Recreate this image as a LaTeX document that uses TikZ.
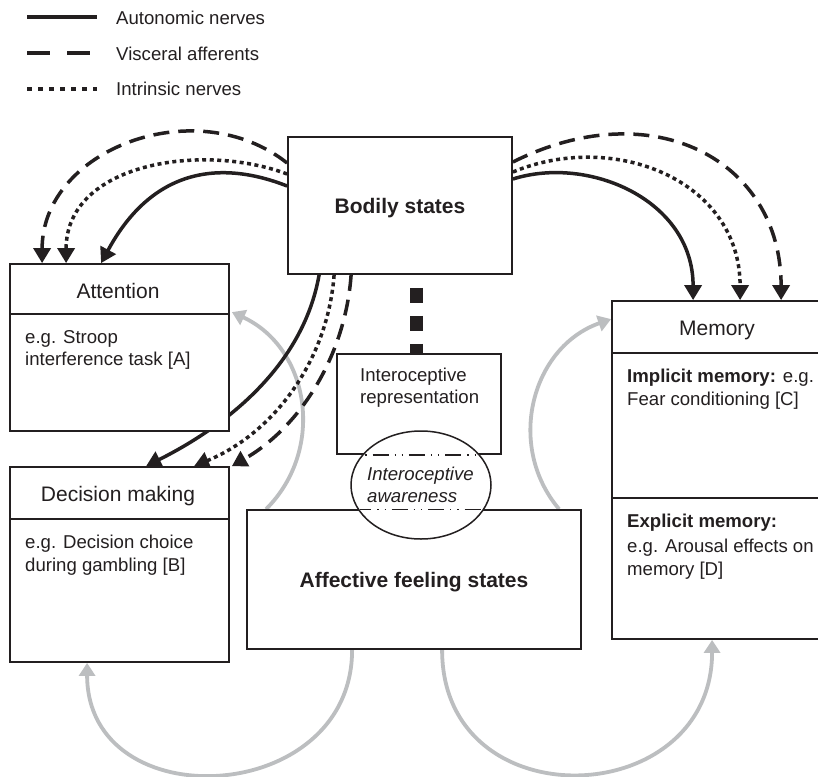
\documentclass[tikz,border=0pt]{standalone}
\usepackage{fontspec}
\setmainfont{Liberation Sans}
\usetikzlibrary{arrows.meta,shapes.geometric,calc}
\pgfdeclarelayer{bg}
\pgfsetlayers{bg,main}
\definecolor{ink}{HTML}{231F20}
\definecolor{arcgray}{HTML}{BCBEC0}
\newcommand{\myBody}{\fontsize{18.6pt}{22pt}\selectfont}
\newcommand{\myTitle}{\fontsize{21pt}{25pt}\selectfont}
\begin{document}
\begin{tikzpicture}[x=1pt,y=-1pt,
  box/.style={draw=ink, line width=1.8pt, fill=white, rectangle, inner sep=0pt},
  titletext/.style={anchor=base, inner sep=0pt, text=ink, font=\myTitle},
  boldtitle/.style={titletext, font=\myTitle\bfseries},
  bodytext/.style={anchor=base west, inner sep=0pt, text=ink, font=\myBody},
  nerveA/.style={draw=ink, line width=3.5pt, -{Triangle[width=17pt,length=15pt]}},
  nerveV/.style={nerveA, dash pattern=on 16pt off 9pt},
  nerveI/.style={nerveA, dash pattern=on 4pt off 3.5pt},
  feedback/.style={draw=arcgray, line width=3.8pt, -{Triangle[width=16pt,length=13pt]}},
  awareline/.style={draw=ink, line width=1.2pt, dash pattern=on 16pt off 6pt on 1.2pt off 6pt on 1.2pt off 6pt}
]
\useasboundingbox (0,0) rectangle (818,776);

% ---------- boxes ----------
\node[box, minimum width=224pt, minimum height=137pt] (bodily) at (400,205.5) {};
\node[box, minimum width=219pt, minimum height=167pt] (attention) at (119.5,347.5) {};
\node[box, minimum width=219pt, minimum height=195pt] (decision) at (119.5,564.5) {};
\node[box, minimum width=164pt, minimum height=100pt] (interorep) at (419,404) {};
\node[box, minimum width=334pt, minimum height=139pt] (affective) at (414,579.5) {};
\node[box, minimum width=210pt, minimum height=338pt] (memory) at (717,470) {};
\node[draw=ink, line width=1.5pt, fill=white, ellipse, minimum width=140pt, minimum height=108pt, inner sep=0pt] (aware) at (421,485) {};

% dividers
\draw[ink, line width=1.8pt] ([yshift=-51pt]attention.north west) -- ([yshift=-51pt]attention.north east);
\draw[ink, line width=1.8pt] ([yshift=-53pt]decision.north west) -- ([yshift=-53pt]decision.north east);
\draw[ink, line width=1.8pt] ([yshift=-53pt]memory.north west) -- ([yshift=-53pt]memory.north east);
\draw[ink, line width=1.8pt] ([yshift=-198pt]memory.north west) -- ([yshift=-198pt]memory.north east);

% box edges seen through the ellipse
\begin{scope}
\clip (aware.center) ellipse [x radius=69pt, y radius=53pt];
\draw[awareline] (interorep.south west) -- (interorep.south east);
\draw[awareline] (affective.north west) -- (affective.north east);
\end{scope}

% ---------- texts ----------
\node[boldtitle] (tbodily) at (400,213.5) {Bodily states};
\node[boldtitle] (taffect) at (414,587) {Affective feeling states};
\node[titletext] (tatt) at (118,298) {Attention};
\node[titletext] (tdec) at (118,501) {Decision making};
\node[titletext] (tmem) at (717,335) {Memory};

\node[bodytext] (att1) at (25,343.5) {e.g. Stroop};
\node[bodytext] (att2) at (25,365.5) {interference task [A]};
\node[bodytext] (dec1) at (25,548) {e.g. Decision choice};
\node[bodytext] (dec2) at (25,571) {during gambling [B]};
\node[bodytext] (rep1) at (360,381.5) {Interoceptive};
\node[bodytext] (rep2) at (360,403.5) {representation};
\node[bodytext, font=\myBody\itshape] (aw1) at (367,480) {Interoceptive};
\node[bodytext, font=\myBody\itshape] (aw2) at (367,502.7) {awareness};
\node[bodytext] (mem1) at (627,382) {\textbf{Implicit memory:} e.g.};
\node[bodytext] (mem2) at (627,405) {Fear conditioning [C]};
\node[bodytext] (mem3) at (627,527) {\textbf{Explicit memory:}};
\node[bodytext] (mem4) at (627,552.3) {e.g. Arousal effects on};
\node[bodytext] (mem5) at (627,575.7) {memory [D]};

% ---------- legend ----------
\coordinate (la1) at (27,17.5); \coordinate (la2) at (97,17.5);
\coordinate (lv1) at (27,53);   \coordinate (lv2) at (90,53);
\coordinate (li1) at (27,89);   \coordinate (li2) at (97,89);
\draw[ink, line width=4pt] (la1) -- (la2);
\draw[ink, line width=4pt, dash pattern=on 23pt off 17pt] (lv1) -- (lv2);
\draw[ink, line width=4.5pt, dash pattern=on 4.5pt off 6.5pt] (li1) -- (li2);
\node[bodytext] (lta) at (116,24.5) {Autonomic nerves};
\node[bodytext] (ltv) at (116,60) {Visceral afferents};
\node[bodytext] (lti) at (116,95.5) {Intrinsic nerves};

% ---------- connectors (behind boxes) ----------
\begin{pgfonlayer}{bg}
\fill[white] (0,0) rectangle (818,776);
% grey feedback arcs
\draw[feedback] ([xshift=20pt]affective.north west) .. controls +(60,-60) and +(77.6,35.8) .. ([xshift=2pt,yshift=-49pt]attention.north east);
\draw[feedback] ([xshift=106pt]affective.south west) .. controls +(0,157) and +(0,157) .. ([xshift=78pt]decision.south west);
\draw[feedback] ([xshift=196pt]affective.south west) .. controls +(0,172) and +(0,172) .. ([xshift=101pt]memory.south west);
\draw[feedback] ([xshift=313pt]affective.north west) .. controls +(-54,-64) and +(-79,27.6) .. ([yshift=-19pt]memory.north west);
% bodily -> attention
\draw[nerveV] ([yshift=42.5pt]bodily.west) .. controls +(-91,-72) and +(0,-114) .. ([xshift=33pt]attention.north west);
\draw[nerveI] ([yshift=31.5pt]bodily.west) .. controls +(-85,-32) and +(0,-100) .. ([xshift=57pt]attention.north west);
\draw[nerveA] ([yshift=19.5pt]bodily.west) .. controls +(-74,-29) and +(48,-89) .. ([xshift=92pt]attention.north west);
% bodily -> memory
\draw[nerveA] ([yshift=26.5pt]bodily.east) .. controls +(76,-24) and +(0,-100) .. ([xshift=82pt]memory.north west);
\draw[nerveI] ([yshift=33.5pt]bodily.east) .. controls +(101,-42) and +(0,-120) .. ([xshift=129pt]memory.north west);
\draw[nerveV] ([yshift=43.5pt]bodily.east) .. controls +(140,-70) and +(0,-140) .. ([xshift=170pt]memory.north west);
% bodily -> decision making
\draw[nerveA] ([xshift=32pt]bodily.south west) .. controls +(-16,91) and +(80,-40) .. ([xshift=137pt]decision.north west);
\draw[nerveI] ([xshift=47pt]bodily.south west) .. controls +(-6.4,85.4) and +(80,-33) .. ([xshift=185pt]decision.north west);
\draw[nerveV] ([xshift=64pt]bodily.south west) .. controls +(-5.5,78.4) and +(70,-40) .. ([xshift=2pt]decision.north east);
% bodily -> interoceptive representation
\draw[ink, line width=13pt, dash pattern=on 15pt off 13pt, dash phase=15pt] ([xshift=16.5pt]bodily.south) -- ([xshift=16.5pt]bodily.south |- interorep.north);
\end{pgfonlayer}
\end{tikzpicture}
\end{document}
